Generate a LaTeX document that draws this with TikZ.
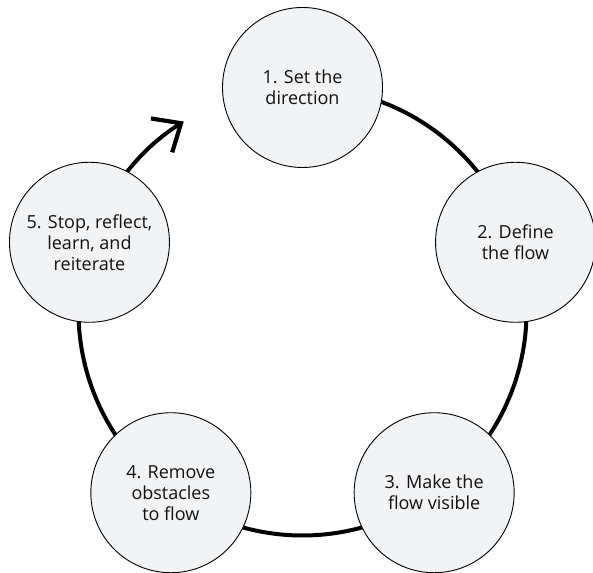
\documentclass[tikz,border=0pt]{standalone}
\usepackage{fontspec}
\setmainfont{Open Sans}
\usetikzlibrary{arrows.meta,backgrounds}
\definecolor{nodefill}{HTML}{F2F3F5}
\definecolor{txt}{HTML}{111111}
\begin{document}
\begin{tikzpicture}[x=1pt,y=1pt,
  stage/.style={circle, draw=black, line width=0.9pt, fill=nodefill,
    minimum size=160pt, inner sep=0pt, align=center,
    font=\fontsize{18}{21}\selectfont, text=txt},
  link/.style={line width=4pt, black},
  barb/.style={-{Straight Barb[length=23pt, width=40pt, line width=4.2pt]}}]
\useasboundingbox (0,0) rectangle (593,572);
\coordinate (c) at (302.5,260.5);
\node[stage] (n1) at ([shift={(90:224)}]c) {1. Set the\\direction};
\node[stage] (n2) at ([shift={(18:224)}]c) {2. Define\\the flow};
\node[stage] (n3) at ([shift={(-54:224)}]c) {3. Make the\\flow visible};
\node[stage] (n4) at ([shift={(234:224)}]c) {4. Remove\\obstacles\\to flow};
\node[stage] (n5) at ([shift={(162:224)}]c) {5. Stop, reflect,\\learn, and\\reiterate};
\begin{pgfonlayer}{background}
\draw[link] (n1.center) arc[start angle=90, end angle=18, radius=224pt];
\draw[link] (n2.center) arc[start angle=18, end angle=-54, radius=224pt];
\draw[link] (n3.center) arc[start angle=-54, end angle=-126, radius=224pt];
\draw[link] (n4.center) arc[start angle=234, end angle=162, radius=224pt];
\draw[link, barb] (n5.center) arc[start angle=162, end angle=122, radius=224pt] coordinate (tip);
\end{pgfonlayer}
\end{tikzpicture}
\end{document}
